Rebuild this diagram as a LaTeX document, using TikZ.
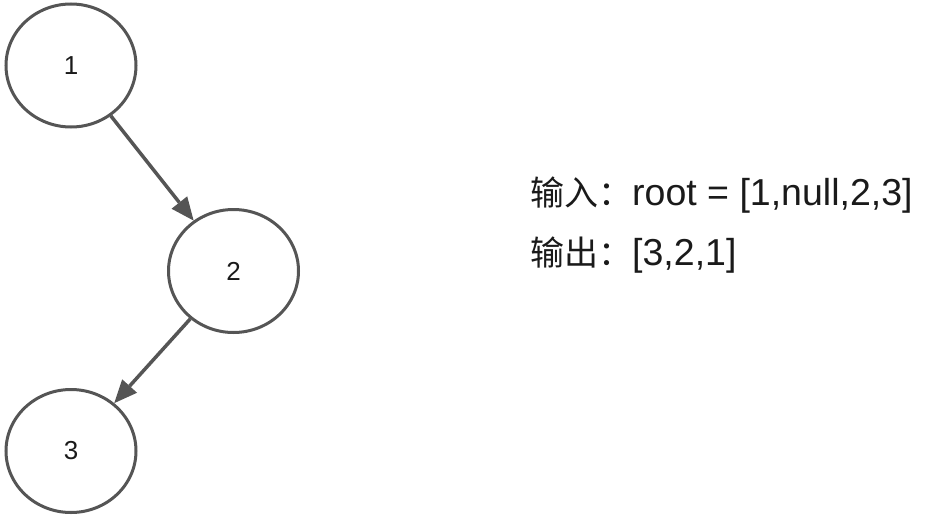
\documentclass[tikz,border=0pt]{standalone}
\usepackage{fontspec}
\setmainfont{Liberation Sans}
\newfontfamily\cjk{Noto Sans CJK SC}
\usetikzlibrary{shapes.geometric,arrows.meta}
\definecolor{edgegray}{HTML}{555555}
\definecolor{textgray}{HTML}{1A1A1A}
\tikzset{
	treenode/.style={draw=edgegray,line width=3pt,ellipse,minimum width=130pt,minimum height=123pt,inner sep=0pt,text=textgray,font=\fontsize{26}{26}\selectfont},
	treeedge/.style={draw=edgegray,line width=3.5pt,-{Triangle[length=23pt,width=20pt,line width=0pt]}},
	infotext/.style={anchor=base west,inner sep=0pt,text=textgray,font=\fontsize{37.5}{37.5}\selectfont}
}
\begin{document}
\begin{tikzpicture}[x=1pt,y=-1pt]
				\useasboundingbox (0,0) rectangle (939,516);
				\node[treenode] (n1) at (71,65.5) {1};
				\node[treenode] (n2) at (233.5,271) {2};
				\node[treenode] (n3) at (71,451) {3};
				
				\draw[treeedge] (n1)--(n2);
				\draw[treeedge] (n2)--(n3);
				
				\node[infotext] (inp) at (530,205) {{\cjk\fontsize{34}{34}\selectfont 输入：}root = [1,null,2,3]};
				\node[infotext] (outp) at (530,265) {{\cjk\fontsize{34}{34}\selectfont 输出：}[3,2,1]};
				
			\end{tikzpicture}
\end{document}
